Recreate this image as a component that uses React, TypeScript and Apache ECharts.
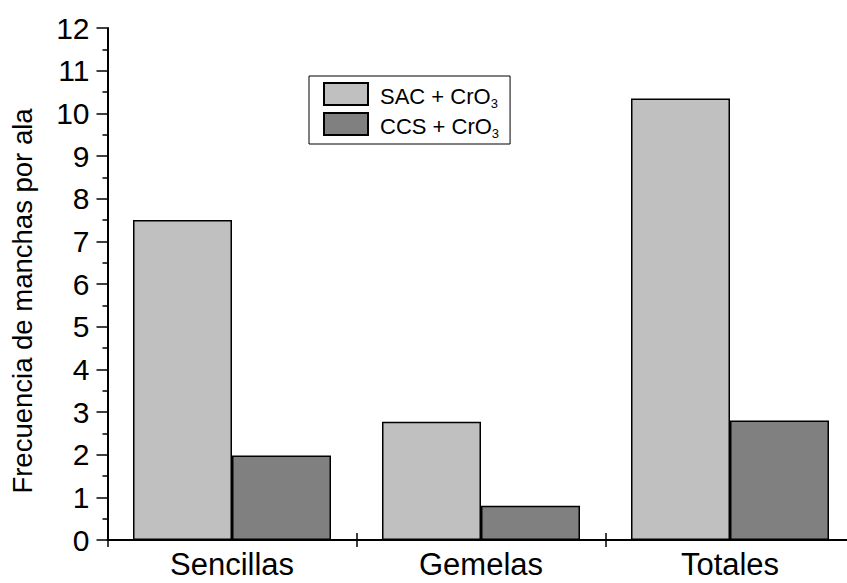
import React, { useEffect, useRef } from "react";
import * as echarts from "echarts";

const categories = ["Sencillas", "Gemelas", "Totales"];
const sacValues = [7.5, 2.77, 10.35];
const ccsValues = [1.98, 0.8, 2.8];
const seriesNames = ["SAC + CrO3", "CCS + CrO3"];
const yTicks = { min: 0, max: 12, interval: 1 };
const yAxisTitle = "Frecuencia de manchas por ala";

const FONT = "Liberation Sans, Arial, Helvetica, sans-serif";
const CHART_W = 870;

export default function App() {
  const ref = useRef<HTMLDivElement>(null);
  useEffect(() => {
    if (!ref.current) return;
    const chart = echarts.init(ref.current, null, { renderer: "svg" });
    const legendFormatter = (name: string) => {
      const base = name.slice(0, -1);
      const sub = name.slice(-1);
      return `{a|${base}}{s|${sub}}`;
    };
    chart.setOption({
      animation: false,
      backgroundColor: "#ffffff",
      textStyle: { fontFamily: FONT, color: "#000" },
      grid: { left: 107.5, right: CHART_W - 854.5, top: 28, bottom: 43, containLabel: false },
      legend: {
        orient: "vertical",
        left: 309,
        top: 76,
        padding: [6, 11, 4, 14],
        borderColor: "#000",
        borderWidth: 1,
        backgroundColor: "#fff",
        itemWidth: 44,
        itemHeight: 22,
        itemGap: 2,
        icon: "rect",
        selectedMode: false,
        data: seriesNames,
        formatter: legendFormatter,
        textStyle: {
          fontFamily: FONT,
          color: "#000",
          padding: [0, 0, 0, 7],
          rich: {
            a: {
              fontSize: 22,
              fontFamily: FONT,
              color: "#000",
              lineHeight: 22,
              verticalAlign: "top",
              padding: [2, 0, 0, 0],
            },
            s: {
              fontSize: 13,
              fontFamily: FONT,
              color: "#000",
              lineHeight: 13,
              verticalAlign: "top",
              padding: [14, 0, 0, 0],
            },
          },
        },
      },
      xAxis: [
        {
          type: "category",
          data: categories,
          position: "bottom",
          axisLine: { show: true, lineStyle: { color: "#000", width: 2 } },
          axisTick: { show: true, length: 7, lineStyle: { color: "#000", width: 1.5 } },
          axisLabel: { fontSize: 31, color: "#000", fontFamily: FONT, margin: 9 },
          splitLine: { show: false },
        },
        {
          type: "category",
          data: categories,
          position: "bottom",
          axisLine: { show: false },
          axisTick: { show: true, inside: true, length: 7, lineStyle: { color: "#000", width: 1.5 } },
          axisLabel: { show: false },
          splitLine: { show: false },
        },
      ],
      yAxis: {
        type: "value",
        min: yTicks.min,
        max: yTicks.max,
        interval: yTicks.interval,
        axisLine: { show: true, lineStyle: { color: "#000", width: 2 } },
        axisTick: { show: true, length: 11, lineStyle: { color: "#000", width: 1.5 } },
        minorTick: { show: true, splitNumber: 2, length: 5, lineStyle: { color: "#000", width: 1.5 } },
        axisLabel: { fontSize: 30, color: "#000", fontFamily: FONT, margin: 18 },
        splitLine: { show: false },
      },
      graphic: [
        {
          type: "text",
          x: 22,
          y: 301,
          rotation: Math.PI / 2,
          style: {
            text: yAxisTitle,
            fontSize: 27.5,
            fontFamily: FONT,
            fill: "#000",
            align: "center",
            verticalAlign: "middle",
          },
        },
      ],
      series: [
        {
          name: seriesNames[0],
          type: "bar",
          data: sacValues,
          barWidth: 99,
          barGap: "0%",
          itemStyle: { color: "#c0c0c0", borderColor: "#000", borderWidth: 1.5 },
        },
        {
          name: seriesNames[1],
          type: "bar",
          data: ccsValues,
          barWidth: 99,
          barGap: "0%",
          itemStyle: { color: "#808080", borderColor: "#000", borderWidth: 1.5 },
        },
      ],
    });
    return () => chart.dispose();
  }, []);
  return (
    <div
      style={{
        position: "absolute",
        left: 0,
        top: 0,
        width: 847,
        height: 583,
        overflow: "hidden",
      }}
    >
      <div ref={ref} style={{ width: CHART_W, height: 583 }} />
    </div>
  );
}
